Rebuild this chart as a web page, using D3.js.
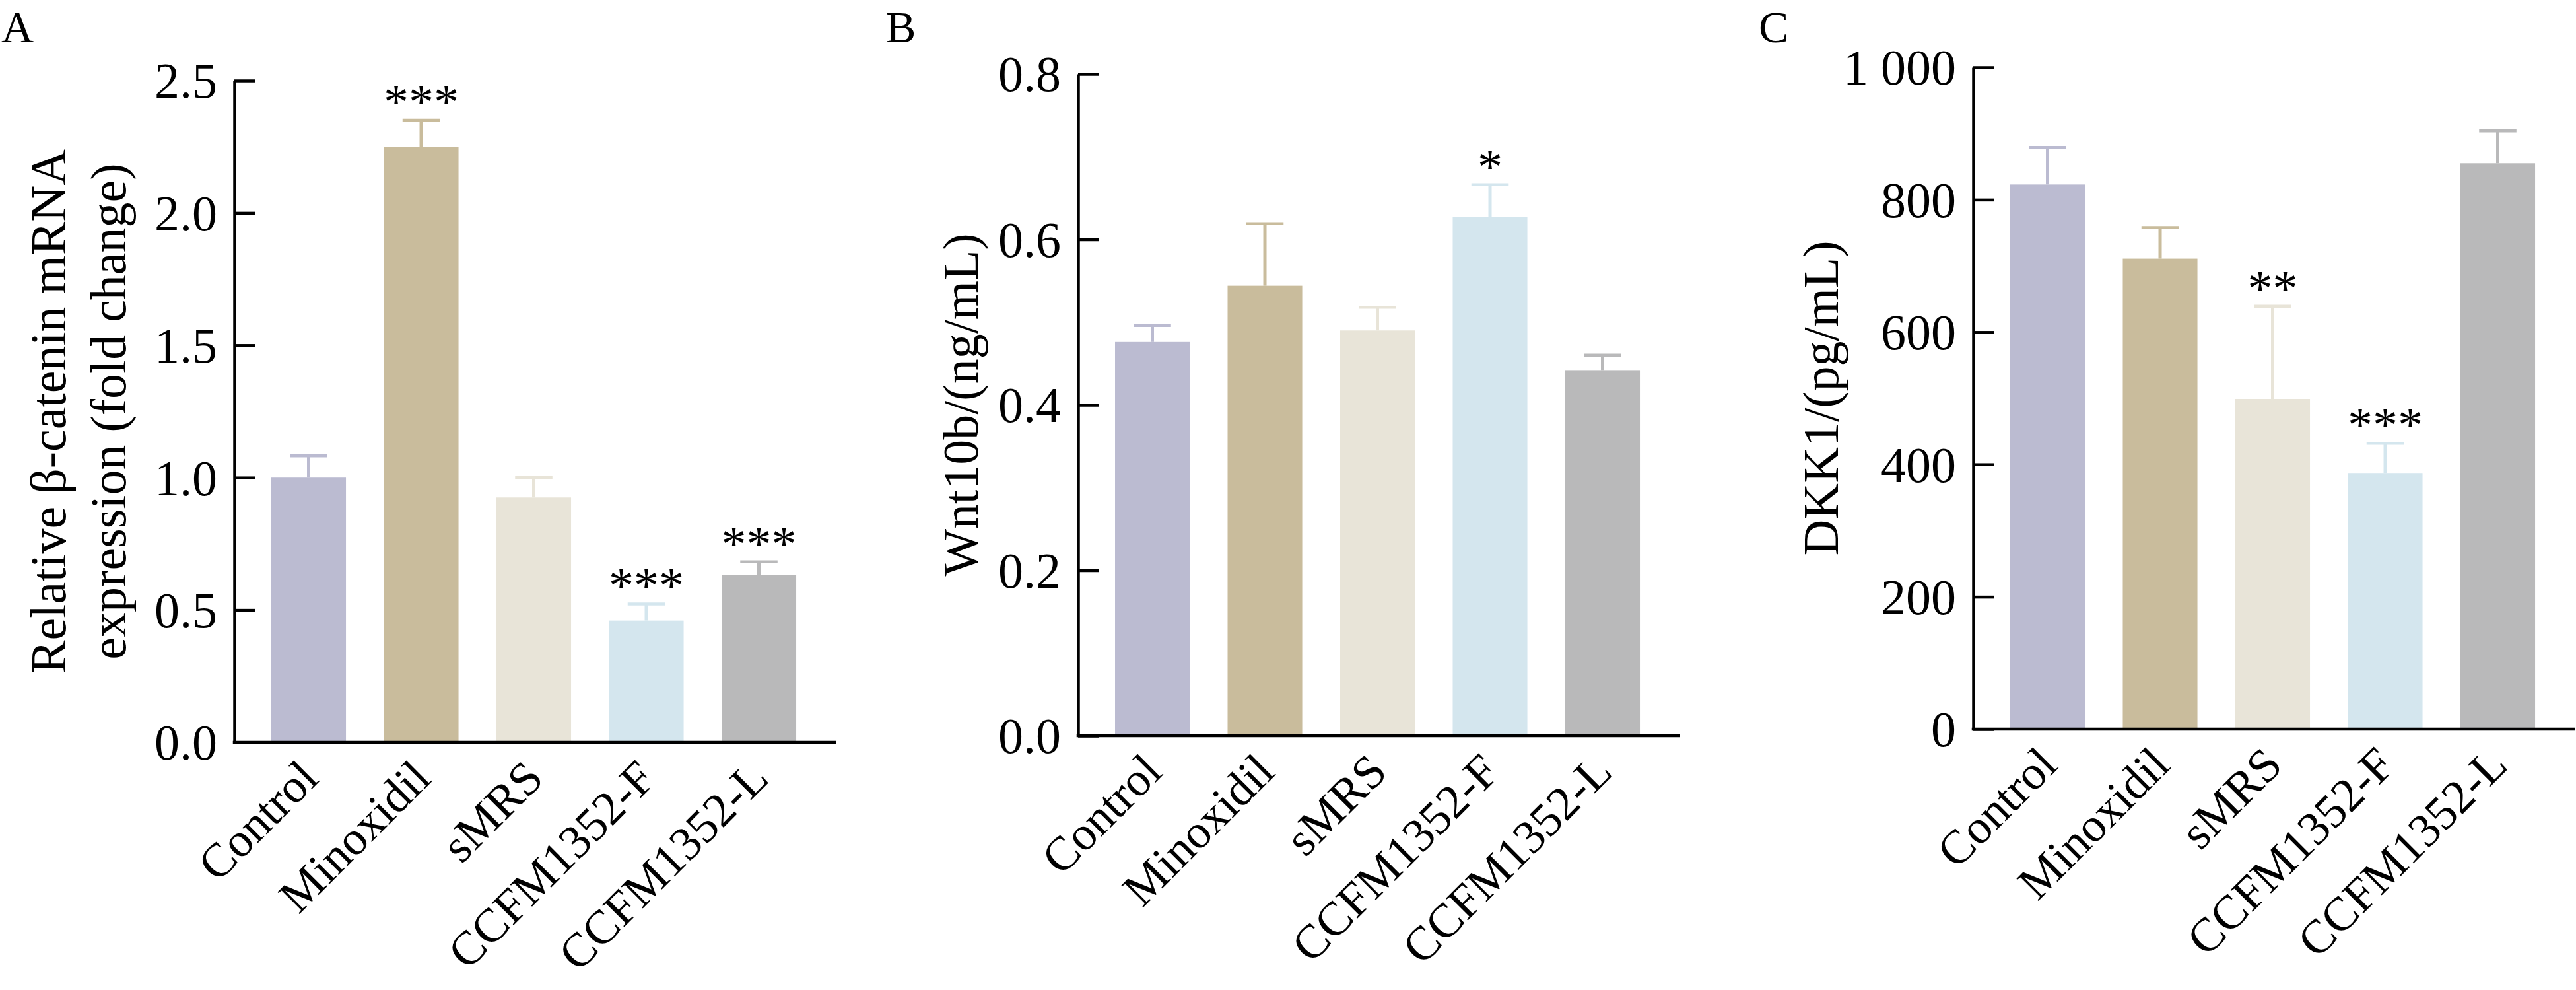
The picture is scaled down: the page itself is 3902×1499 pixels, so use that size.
<!DOCTYPE html>
<html>
<head>
<meta charset="utf-8">
<script src="https://cdn.jsdelivr.net/npm/d3@7"></script>
<style>
  body { margin: 0; background: #fff; }
  text { font-family: "Times New Roman", "Liberation Serif", serif; fill: #000; }
</style>
</head>
<body>
<div id="chart"></div>
<script>
// Groups and colours shared by all three panels
const groups = ["Control", "Minoxidil", "sMRS", "CCFM1352-F", "CCFM1352-L"];
const barColors = ["#bbbbd1", "#c9bc9c", "#e8e4d8", "#d4e6ee", "#b9b9ba"];

// Panel A: beta-catenin mRNA (fold change)
const betaMean = [1.00, 2.25, 0.925, 0.46, 0.632];
const betaErr = [0.082, 0.10, 0.075, 0.063, 0.05];
const betaStars = ["", "***", "", "***", "***"];
const betaTicks = [0, 0.5, 1.0, 1.5, 2.0, 2.5];
const betaTickLabels = ["0.0", "0.5", "1.0", "1.5", "2.0", "2.5"];

// Panel B: Wnt10b (ng/mL)
const wntMean = [0.476, 0.544, 0.490, 0.627, 0.442];
const wntErr = [0.020, 0.075, 0.028, 0.039, 0.018];
const wntStars = ["", "", "", "*", ""];
const wntTicks = [0, 0.2, 0.4, 0.6, 0.8];
const wntTickLabels = ["0.0", "0.2", "0.4", "0.6", "0.8"];

// Panel C: DKK1 (pg/mL)
const dkkMean = [823, 711, 499, 387, 855];
const dkkErr = [56, 47, 140, 45, 49];
const dkkStars = ["", "", "**", "***", ""];
const dkkTicks = [0, 200, 400, 600, 800, 1000];
const dkkTickLabels = ["0", "200", "400", "600", "800", "1 000"];

const panels = [
  { letter: "A", lx: 2, axisX: 355, top: 122, mean: betaMean, err: betaErr, stars: betaStars,
    ticks: betaTicks, tickLabels: betaTickLabels, title: ["Relative \u03b2-catenin mRNA", "expression (fold change)"],
    titleX: [99, 190] },
  { letter: "B", lx: 1342, axisX: 1633, top: 112, mean: wntMean, err: wntErr, stars: wntStars,
    ticks: wntTicks, tickLabels: wntTickLabels, title: ["Wnt10b/(ng/mL)"], titleX: [1481] },
  { letter: "C", lx: 2664, axisX: 2989, top: 102, mean: dkkMean, err: dkkErr, stars: dkkStars,
    ticks: dkkTicks, tickLabels: dkkTickLabels, title: ["DKK1/(pg/mL)"], titleX: [2784] }
];

const W = 3902, H = 1499;
const plotH = 1002, axisLen = 912, fontSize = 76, xLabelSize = 72;
const step = 170.5, pad = 0.337;

const svg = d3.select("#chart").append("svg")
  .attr("width", W)
  .attr("height", H);

panels.forEach(p => {
  const g = svg.append("g");
  const bottom = p.top + plotH;

  const y = d3.scaleLinear()
    .domain([0, d3.max(p.ticks)])
    .range([bottom, p.top]);

  const bandStart = p.axisX + 56 - step * pad / 2;
  const x = d3.scaleBand()
    .domain(groups)
    .range([bandStart, bandStart + step * groups.length])
    .paddingInner(pad)
    .paddingOuter(pad / 2);

  // panel letter
  g.append("text")
    .attr("x", p.lx)
    .attr("y", 64)
    .style("font-size", "68px")
    .text(p.letter);

  // bars
  g.selectAll(".bar")
    .data(groups)
    .enter()
    .append("rect")
    .attr("x", d => x(d))
    .attr("y", (d, i) => y(p.mean[i]))
    .attr("width", x.bandwidth())
    .attr("height", (d, i) => bottom - y(p.mean[i]))
    .attr("fill", (d, i) => barColors[i]);

  // error bars (upper only)
  groups.forEach((d, i) => {
    const cx = x(d) + x.bandwidth() / 2;
    const yTop = y(p.mean[i] + p.err[i]);
    g.append("line")
      .attr("x1", cx).attr("x2", cx)
      .attr("y1", y(p.mean[i])).attr("y2", yTop)
      .attr("stroke", barColors[i])
      .attr("stroke-width", 5);
    g.append("line")
      .attr("x1", cx - x.bandwidth() / 4).attr("x2", cx + x.bandwidth() / 4)
      .attr("y1", yTop).attr("y2", yTop)
      .attr("stroke", barColors[i])
      .attr("stroke-width", 4.5);
    if (p.stars[i]) {
      g.append("text")
        .attr("x", cx)
        .attr("y", yTop - 2)
        .attr("text-anchor", "middle")
        .style("font-size", fontSize + "px")
        .text(p.stars[i]);
    }
  });

  // y axis, ticks pointing inward
  const yAxis = g.append("g")
    .attr("transform", `translate(${p.axisX},0)`)
    .call(d3.axisLeft(y)
      .tickValues(p.ticks)
      .tickFormat((d, i) => p.tickLabels[i])
      .tickSizeInner(-32)
      .tickSizeOuter(0)
      .tickPadding(26));
  yAxis.select(".domain").attr("stroke", "#000").attr("stroke-width", 4.5);
  yAxis.selectAll(".tick line").attr("stroke", "#000").attr("stroke-width", 4.5);
  yAxis.selectAll(".tick text")
    .style("font-size", fontSize + "px")
    .attr("dy", "0.34em");
  yAxis.attr("font-family", null).attr("font-size", null);

  // x axis: labels from axisBottom, baseline drawn full width
  const xAxis = g.append("g")
    .attr("transform", `translate(0,${bottom})`)
    .call(d3.axisBottom(x).tickSize(0));
  xAxis.select(".domain").remove();
  xAxis.attr("font-family", null).attr("font-size", null);
  xAxis.selectAll(".tick text")
    .attr("x", 0)
    .attr("y", 0)
    .attr("dy", "0.35em")
    .attr("text-anchor", "end")
    .attr("transform", "translate(0,40) rotate(-45)")
    .style("font-size", xLabelSize + "px");

  g.append("line")
    .attr("x1", p.axisX - 2.25)
    .attr("x2", p.axisX + axisLen)
    .attr("y1", bottom)
    .attr("y2", bottom)
    .attr("stroke", "#000")
    .attr("stroke-width", 4.5);

  // y axis title
  p.title.forEach((t, k) => {
    g.append("text")
      .attr("transform", `translate(${p.titleX[k]},${(p.top + bottom) / 2}) rotate(-90)`)
      .attr("text-anchor", "middle")
      .style("font-size", fontSize + "px")
      .text(t);
  });
});
</script>
</body>
</html>
